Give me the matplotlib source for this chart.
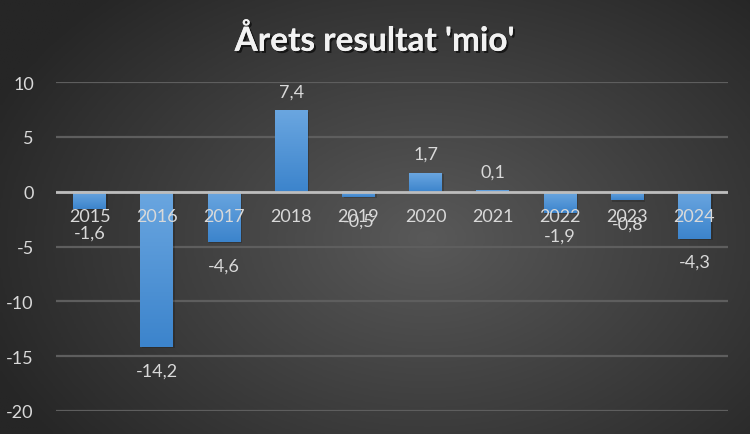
import numpy as np
import matplotlib
matplotlib.use("Agg")
import matplotlib.pyplot as plt
import matplotlib.patheffects as pe
from matplotlib.colors import LinearSegmentedColormap

years = ["2015", "2016", "2017", "2018", "2019", "2020", "2021", "2022", "2023", "2024"]
result = [-1.6, -14.2, -4.6, 7.4, -0.5, 1.7, 0.1, -1.9, -0.8, -4.3]
labels = ["-1,6", "-14,2", "-4,6", "7,4", "-0,5", "1,7", "0,1", "-1,9", "-0,8", "-4,3"]
yticks = [-20, -15, -10, -5, 0, 5, 10]

plt.rcParams['font.family'] = ['Lato', 'DejaVu Sans']
txt = "#d9d9d9"

fig = plt.figure(figsize=(7.5, 4.35), dpi=100)

# radial gradient background
bg = fig.add_axes([0, 0, 1, 1], zorder=0)
xx, yy = np.meshgrid(np.linspace(0, 1, 400), np.linspace(0, 1, 240))
r = np.sqrt(((xx - 0.57) / 0.75) ** 2 + ((yy - 0.45) / 0.9) ** 2)
bgcmap = LinearSegmentedColormap.from_list("bg", ["#595959", "#262626"])
bg.imshow(r, cmap=bgcmap, extent=[0, 1, 0, 1], aspect="auto", vmin=0, vmax=0.85, origin="lower")
bg.axis("off")

ax = fig.add_axes([56 / 750, (435 - 412) / 435, (728 - 56) / 750, (412 - 83) / 435], zorder=1)
ax.patch.set_alpha(0)

for y in yticks:
    ax.axhline(y, color="#5e5e5e", lw=1.6, zorder=1)
ax.axhline(0, color="#bdbdbd", lw=2, zorder=4)

bcmap = LinearSegmentedColormap.from_list("bar", ["#3c84cc", "#6aa6e0"])
w = 0.49
grad = np.linspace(0, 1, 100).reshape(-1, 1)
for i, v in enumerate(result):
    lo, hi = min(0, v), max(0, v)
    ax.add_patch(plt.Rectangle((i - w / 2 + 0.025, lo - 0.1), w, hi - lo, color="black", alpha=0.18, lw=0, zorder=2))
    ax.imshow(grad, cmap=bcmap, extent=[i - w / 2, i + w / 2, lo, hi], aspect="auto", origin="lower", zorder=3)
    if v >= 0:
        ax.text(i, v + 1.75, labels[i], ha="center", va="center", color=txt, fontsize=13, zorder=6)
    else:
        ax.text(i, v - 2.1, labels[i], ha="center", va="center", color=txt, fontsize=13, zorder=6)
    ax.text(i, -2.2, years[i], ha="center", va="center", color=txt, fontsize=13, zorder=5)

ax.set_xlim(-0.5, len(years) - 0.5)
ax.set_ylim(-20, 10)
ax.set_xticks([])
ax.set_yticks(yticks)
ax.set_yticklabels([str(t) for t in yticks], color=txt, fontsize=13)
ax.tick_params(axis="y", length=0, pad=16)
for s in ax.spines.values():
    s.set_visible(False)

fig.text(0.5, 0.905, "Årets resultat 'mio'", ha="center", va="center", color="#f2f2f2",
         fontsize=24, fontweight="bold",
         path_effects=[pe.withSimplePatchShadow(offset=(1.5, -1.5), shadow_rgbFace="black", alpha=0.6), pe.Normal()])

fig.savefig("out.png", dpi=100)
